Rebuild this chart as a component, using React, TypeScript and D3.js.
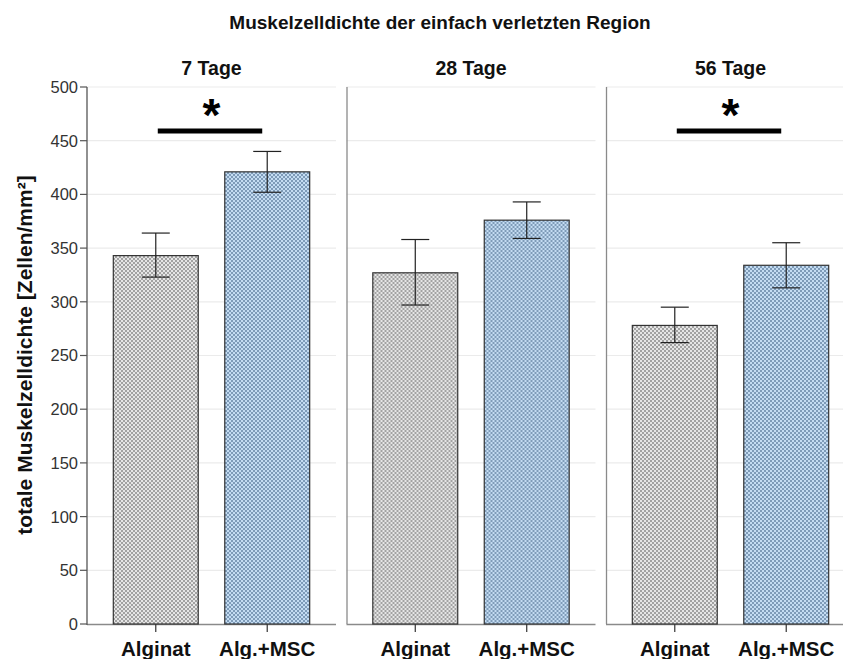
import React from "react";
import * as d3 from "d3";

const panels = ["7 Tage", "28 Tage", "56 Tage"];
const groups = ["Alginat", "Alg.+MSC"];
const means = [
  [343, 421],
  [327, 376],
  [278, 334],
];
const lower = [
  [323, 402],
  [297, 359],
  [262, 313],
];
const upper = [
  [364, 440],
  [358, 393],
  [295, 355],
];
const significant = [true, false, true];
const yTicks = [0, 50, 100, 150, 200, 250, 300, 350, 400, 450, 500];
const title = "Muskelzelldichte der einfach verletzten Region";
const yLabel = "totale Muskelzelldichte [Zellen/mm²]";

const W = 843;
const H = 659;
const FONT = "'Liberation Sans', Arial, sans-serif";

export default function App() {
  const y = d3.scaleLinear().domain([0, 500]).range([624, 87]);
  const px = d3.scaleBand<string>().domain(panels).range([87, 855]).paddingInner(0.0405).paddingOuter(0);
  const bx = d3.scaleBand<string>().domain(groups).range([0, px.bandwidth()]).paddingInner(0.238).paddingOuter(0.236);
  const fills = ["url(#patGray)", "url(#patBlue)"];

  return (
    <svg width={W} height={H} style={{ position: "absolute", left: 0, top: 0, background: "#fff" }} fontFamily={FONT}>
      <defs>
        <pattern id="patGray" width={4} height={4} patternUnits="userSpaceOnUse">
          <rect width={4} height={4} fill="#e6e6e6" />
          <rect x={0} y={0} width={2} height={2} fill="#a2a2a2" />
          <rect x={2} y={2} width={2} height={2} fill="#a2a2a2" />
        </pattern>
        <pattern id="patBlue" width={4} height={4} patternUnits="userSpaceOnUse">
          <rect width={4} height={4} fill="#c4dcf2" />
          <rect x={0} y={0} width={2} height={2} fill="#7e9bb8" />
          <rect x={2} y={2} width={2} height={2} fill="#7e9bb8" />
        </pattern>
      </defs>
      <rect width={W} height={H} fill="#fff" />
      <text x={440} y={29} textAnchor="middle" fontSize={19} fontWeight="bold" fill="#111">{title}</text>
      <text transform={`translate(32,355) rotate(-90)`} textAnchor="middle" fontSize={21} fontWeight="bold" fill="#111">{yLabel}</text>

      {panels.map((p, pi) => {
        const x0 = px(p)!;
        const w = px.bandwidth();
        return (
          <g key={p} transform={`translate(${x0},0)`}>
            {yTicks.filter((t) => t > 0).map((t) => (
              <line key={t} x1={0} x2={w} y1={y(t)} y2={y(t)} stroke="#ebebeb" strokeWidth={1.2} />
            ))}
            <text x={w / 2} y={75} textAnchor="middle" fontSize={19.5} fontWeight="bold" fill="#111">{p}</text>
            {pi > 0 && <line x1={0.5} x2={0.5} y1={y(500)} y2={y(0)} stroke="#8a8a8a" strokeWidth={1.3} />}
            <line x1={0} x2={w} y1={y(0) + 0.5} y2={y(0) + 0.5} stroke="#8a8a8a" strokeWidth={1.3} />
            {groups.map((g, gi) => {
              const bxx = bx(g)!;
              const c = bxx + bx.bandwidth() / 2;
              return (
                <g key={g}>
                  <rect x={bxx} y={y(means[pi][gi])} width={bx.bandwidth()} height={y(0) - y(means[pi][gi])} fill={fills[gi]} stroke="#333" strokeWidth={1.2} />
                  <line x1={c} x2={c} y1={y(upper[pi][gi])} y2={y(lower[pi][gi])} stroke="#222" strokeWidth={1.2} />
                  <line x1={c - 14} x2={c + 14} y1={y(upper[pi][gi])} y2={y(upper[pi][gi])} stroke="#222" strokeWidth={1.2} />
                  <line x1={c - 14} x2={c + 14} y1={y(lower[pi][gi])} y2={y(lower[pi][gi])} stroke="#222" strokeWidth={1.2} />
                  <line x1={c} x2={c} y1={y(0)} y2={y(0) + 8} stroke="#333" strokeWidth={1.2} />
                  <text x={c} y={656} textAnchor="middle" fontSize={20.5} fontWeight="bold" fill="#111">{g}</text>
                </g>
              );
            })}
            {significant[pi] && (() => {
              const c1 = bx(groups[0])! + bx.bandwidth() / 2;
              const c2 = bx(groups[1])! + bx.bandwidth() / 2;
              return (
                <g>
                  <rect x={c1 + 2} y={128.5} width={c2 - c1 - 7} height={5} fill="#000" />
                  <text x={(c1 + c2) / 2} y={131} textAnchor="middle" fontSize={46} fontWeight="bold" fill="#000">*</text>
                </g>
              );
            })()}
          </g>
        );
      })}

      <line x1={87} x2={87} y1={y(500)} y2={y(0) + 1} stroke="#555" strokeWidth={1.3} />
      {yTicks.map((t) => (
        <g key={t}>
          <line x1={80} x2={87} y1={y(t)} y2={y(t)} stroke="#555" strokeWidth={1.2} />
          <text x={78} y={y(t)} dy="0.36em" textAnchor="end" fontSize={16.5} fill="#333">{t}</text>
        </g>
      ))}
    </svg>
  );
}
